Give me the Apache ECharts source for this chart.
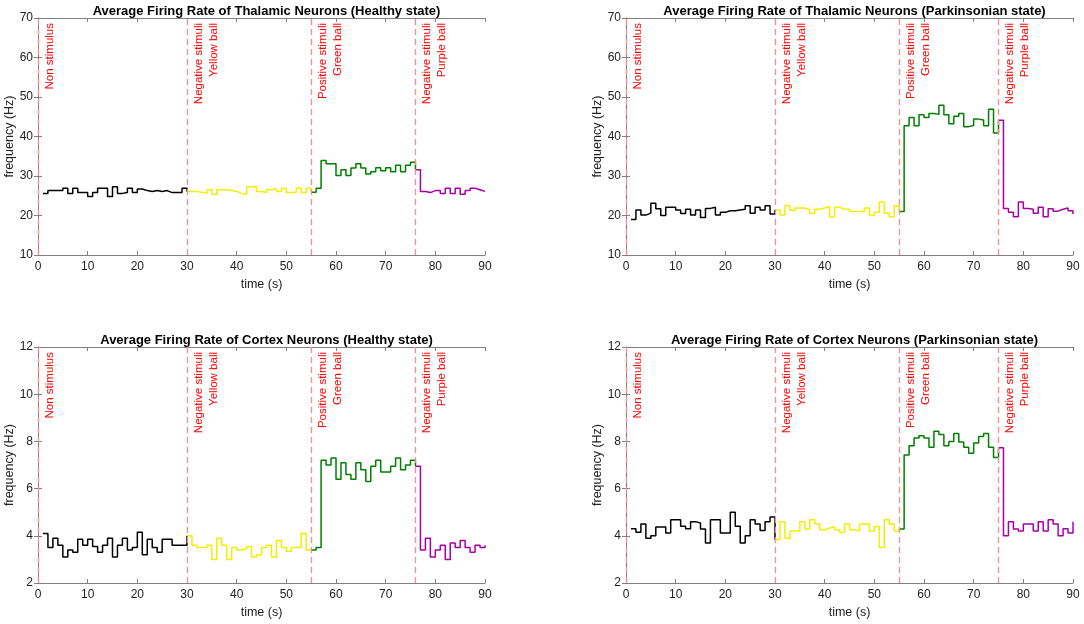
<!DOCTYPE html>
<html>
<head>
  <meta charset="utf-8">
  <title>Average Firing Rate</title>
  <script src="https://cdn.jsdelivr.net/npm/echarts@6/dist/echarts.min.js"></script>
  <style>
    html, body { margin: 0; padding: 0; background: #fff; }
    #main { width: 1084px; height: 624px; }
  </style>
</head>
<body>
  <div id="main"></div>
  <script>
    // firing rate per 1 s bin, t = 1..90
    var thalHealthy = [
      25.6, 26.3, 26.3, 26.3, 26.9, 25.6, 26.9, 25.8, 25.8, 24.8, 25.8, 26.9, 26.9, 24.8, 27.3,
      25.6, 25.8, 26.9, 25.8, 26.7, 26.3, 26.1, 26.3, 26.1, 26.3, 25.8, 25.8, 25.8, 26.9,
      26.1, 26.1, 25.9, 25.6, 26.5, 25.4, 26.5, 26.5, 26.3, 26.1, 25.6, 25.4, 27.3, 27.3, 26.1,
      25.8, 26.5, 26.7, 26.1, 26.9, 25.8, 25.8, 26.9, 25.8, 26.9,
      25.9, 26.9, 33.9, 33.1, 33.1, 30.1, 31.6, 30.1, 32.0, 33.1, 32.0, 30.5, 31.1, 32.1, 31.3,
      32.1, 31.1, 32.7, 31.1, 32.7, 33.5,
      31.6, 26.1, 25.8, 26.3, 26.3, 25.6, 26.9, 25.6, 26.9, 25.4, 26.3, 26.9, 26.5, 26.1, 26.1
    ];
    var thalPark = [
      19.0, 21.4, 20.1, 20.6, 23.1, 21.7, 20.0, 22.1, 22.1, 21.4, 20.5, 21.6, 20.1, 21.4, 19.5,
      21.8, 22.1, 20.1, 20.8, 21.2, 21.2, 21.4, 21.6, 22.5, 20.6, 22.1, 21.4, 22.5, 20.4,
      21.4, 20.1, 22.5, 21.3, 21.9, 21.9, 21.4, 20.5, 21.6, 21.9, 22.3, 19.6, 22.1, 21.6, 21.6,
      21.0, 21.0, 21.0, 21.9, 20.0, 20.8, 23.4, 20.6, 19.7, 22.5,
      21.0, 42.7, 44.8, 42.7, 45.5, 44.8, 45.8, 45.6, 47.9, 45.5, 43.2, 45.1, 45.8, 42.5, 42.8,
      44.4, 44.2, 42.7, 46.9, 40.9,
      44.1, 21.8, 20.8, 19.7, 23.4, 21.8, 21.6, 20.6, 22.1, 19.7, 21.7, 21.1, 21.6, 21.9, 21.2, 20.4
    ];
    var cortHealthy = [
      4.1, 3.5, 3.9, 3.6, 3.1, 3.4, 3.3, 3.85, 3.6, 3.85, 3.55, 3.3, 3.6, 3.9, 3.1,
      3.6, 3.9, 3.4, 3.5, 4.15, 3.2, 3.85, 3.5, 3.3, 3.85, 3.85, 3.6, 3.6, 3.6,
      4.0, 3.6, 3.5, 3.5, 3.6, 3.0, 3.9, 3.6, 3.0, 3.5, 3.4, 3.45, 3.55, 3.1, 3.2,
      3.5, 3.6, 3.1, 3.8, 3.5, 3.35, 3.5, 3.5, 4.1, 3.4,
      3.4, 3.5, 7.2, 7.0, 7.3, 6.4, 7.1, 6.6, 6.4, 7.1, 6.8, 6.3, 6.95, 7.2, 6.7,
      6.7, 6.95, 7.3, 6.8, 7.0, 7.2,
      6.95, 3.4, 3.9, 3.1, 3.4, 3.6, 3.0, 3.7, 3.5, 3.8, 3.5, 3.3, 3.6, 3.5, 3.6
    ];
    var cortPark = [
      4.3, 4.15, 4.5, 3.9, 4.0, 4.37, 4.37, 4.12, 4.68, 4.68, 4.4, 4.3, 4.6, 4.54, 4.29,
      3.7, 4.68, 4.68, 4.12, 4.12, 5.0, 4.4, 3.7, 4.0, 4.68, 4.5, 4.22, 4.6, 4.8,
      3.84, 4.6, 3.9, 4.2, 4.2, 4.6, 4.29, 4.68, 4.5, 4.26, 4.33, 4.37, 4.26, 4.15, 4.5,
      4.26, 4.2, 4.5, 4.5, 4.2, 4.39, 3.5, 4.68, 4.5, 4.2,
      4.29, 7.42, 7.82, 8.14, 8.24, 8.14, 7.75, 8.43, 8.29, 7.82, 8.0, 8.33, 7.97, 7.75, 7.5,
      7.93, 8.21, 8.33, 7.75, 7.32,
      7.73, 4.0, 4.6, 4.29, 4.2, 4.5, 4.5, 4.2, 4.6, 4.2, 4.68, 4.5, 4.0, 4.3, 4.12, 4.6
    ];

    // stimulus onsets (s)
    var boundsHealthy = [30, 55, 76];
    var boundsPark = [30, 55, 75];
    var stimLabels = ['Non stimulus', 'Negative stimuli\nYellow ball', 'Positive stimuli\nGreen ball', 'Negative stimuli\nPurple ball'];
    var segColors = ['#000000', '#f0f000', '#007f00', '#a800a8'];

    var panels = [
      { title: 'Average Firing Rate of Thalamic Neurons (Healthy state)', values: thalHealthy, bounds: boundsHealthy, ymin: 10, ymax: 70, step: 10, left: 38, top: 18, height: 237 },
      { title: 'Average Firing Rate of Thalamic Neurons (Parkinsonian state)', values: thalPark, bounds: boundsPark, ymin: 10, ymax: 70, step: 10, left: 626, top: 18, height: 237 },
      { title: 'Average Firing Rate of Cortex Neurons (Healthy state)', values: cortHealthy, bounds: boundsHealthy, ymin: 2, ymax: 12, step: 2, left: 38, top: 347, height: 236 },
      { title: 'Average Firing Rate of Cortex Neurons (Parkinsonian state)', values: cortPark, bounds: boundsPark, ymin: 2, ymax: 12, step: 2, left: 626, top: 347, height: 236 }
    ];

    var FONT = 'Liberation Sans, Arial, sans-serif';
    var axisColor = '#808080';
    var plotW = 447;

    var grids = [], xAxes = [], yAxes = [], titles = [], series = [];

    panels.forEach(function (p, i) {
      grids.push({ left: p.left, top: p.top, width: plotW, height: p.height });
      titles.push({
        text: p.title,
        left: p.left + plotW / 2,
        top: p.top - 18,
        textAlign: 'center',
        textStyle: { fontFamily: FONT, fontSize: 13, fontWeight: 'bold', color: '#000' }
      });

      var boxLine = { show: true, lineStyle: { color: axisColor, width: 1 } };
      var tick = { show: true, inside: true, length: 4, lineStyle: { color: axisColor } };

      // bottom / top x axes
      xAxes.push({
        type: 'value', gridIndex: i, min: 0, max: 90, interval: 10, position: 'bottom',
        name: 'time (s)', nameLocation: 'middle', nameGap: 23,
        nameTextStyle: { fontFamily: FONT, fontSize: 12.5, color: '#222' },
        axisLine: boxLine, axisTick: tick, splitLine: { show: false },
        axisLabel: { fontFamily: FONT, fontSize: 12, color: '#222', margin: 6 }
      });
      xAxes.push({
        type: 'value', gridIndex: i, min: 0, max: 90, interval: 10, position: 'top',
        axisLine: boxLine, axisTick: tick, splitLine: { show: false }, axisLabel: { show: false }
      });
      // left / right y axes
      yAxes.push({
        type: 'value', gridIndex: i, min: p.ymin, max: p.ymax, interval: p.step, position: 'left',
        name: 'frequency (Hz)', nameLocation: 'middle', nameGap: 22,
        nameTextStyle: { fontFamily: FONT, fontSize: 12.5, color: '#222' },
        axisLine: boxLine, axisTick: tick, splitLine: { show: false },
        axisLabel: { fontFamily: FONT, fontSize: 12, color: '#222', margin: 5 }
      });
      yAxes.push({
        type: 'value', gridIndex: i, min: p.ymin, max: p.ymax, interval: p.step, position: 'right',
        axisLine: boxLine, axisTick: tick, splitLine: { show: false }, axisLabel: { show: false }
      });

      // coloured stair segments
      var b = [1].concat(p.bounds).concat([90]);
      for (var s = 0; s < 4; s++) {
        var pts = [];
        for (var t = b[s]; t <= b[s + 1]; t++) pts.push([t, p.values[t - 1]]);
        var ser = {
          type: 'line', step: 'end', xAxisIndex: i * 2, yAxisIndex: i * 2,
          data: pts, showSymbol: false, silent: true, animation: false,
          lineStyle: { color: segColors[s], width: 1.5 }, z: 3
        };
        if (s === 0) {
          var lines = [0].concat(p.bounds).map(function (x, k) {
            return { xAxis: x, label: { formatter: stimLabels[k] } };
          });
          ser.markLine = {
            symbol: ['none', 'none'], silent: true, animation: false,
            lineStyle: { color: '#ff8a8a', type: [6, 4], width: 1.3 },
            label: {
              show: true, position: 'insideEndBottom', color: '#ff0000',
              fontFamily: FONT, fontSize: 11.5, lineHeight: 15, distance: 4,
              padding: [0, 1, 0, 0]
            },
            data: lines
          };
        }
        series.push(ser);
      }
    });

    var myChart = echarts.init(document.getElementById('main'));
    myChart.setOption({
      animation: false,
      backgroundColor: '#fff',
      title: titles,
      grid: grids,
      xAxis: xAxes,
      yAxis: yAxes,
      series: series
    });
  </script>
</body>
</html>
